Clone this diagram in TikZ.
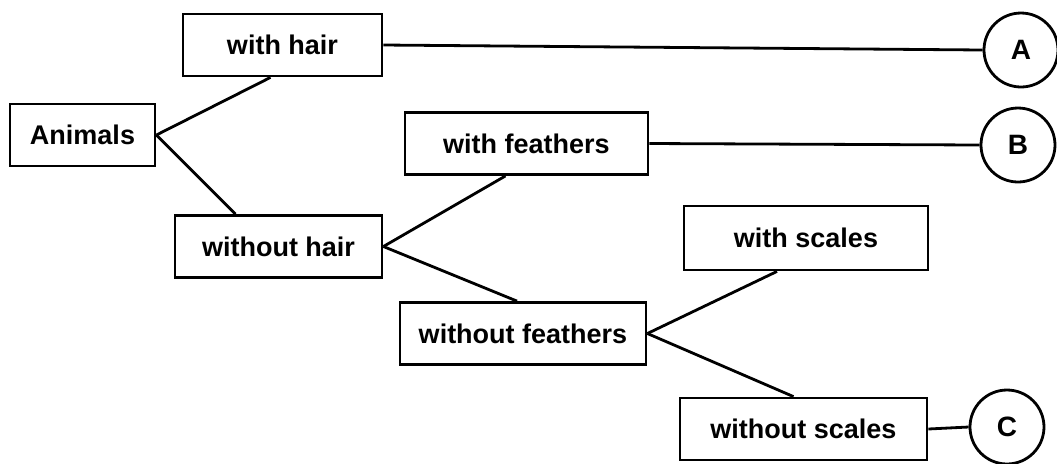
\documentclass[tikz,border=0pt]{standalone}
\usepackage{fontspec}
\setmainfont{Liberation Sans}
\begin{document}
\begin{tikzpicture}[x=0.5pt,y=-0.5pt,line width=1.4pt,
    box/.style={draw,rectangle,minimum height=31pt,inner sep=0pt,
      font=\fontsize{13.5}{16}\selectfont\bfseries},
    leaf/.style={draw,circle,minimum size=37pt,inner sep=0pt,
      font=\fontsize{14}{16}\selectfont\bfseries}]
  \useasboundingbox (0,0) rectangle (1057,463);
  \node[box,minimum width=72.5pt] (animals) at (82.5,135) {Animals};
  \node[box,minimum width=99.5pt] (withhair) at (282.5,45) {with hair};
  \node[box,minimum width=103.5pt] (withouthair) at (278.5,246.5) {without hair};
  \node[box,minimum width=121.5pt] (withfeathers) at (526.5,143.5) {with feathers};
  \node[box,minimum width=123pt] (withoutfeathers) at (523,333.5) {without feathers};
  \node[box,minimum width=122pt,minimum height=32pt] (withscales) at (806,238) {with scales};
  \node[box,minimum width=123.5pt] (withoutscales) at (803.5,429) {without scales};
  \node[leaf] (A) at (1021,50) {A};
  \node[leaf] (B) at (1018,145) {B};
  \node[leaf] (C) at (1007,427) {C};
  % branches
  \draw (animals.east) -- ([xshift=-6pt]withhair.south);
  \draw (animals.east) -- ([xshift=-21.5pt]withouthair.north);
  \draw (withouthair.east) -- ([xshift=-10.5pt]withfeathers.south);
  \draw (withouthair.east) -- ([xshift=-3pt]withoutfeathers.north);
  \draw (withoutfeathers.east) -- ([xshift=-14.5pt]withscales.south);
  \draw (withoutfeathers.east) -- ([xshift=-5pt]withoutscales.north);
  % to the letters
  \draw (withhair.east) -- (A.west);
  \draw (withfeathers.east) -- (B.west);
  \draw (withoutscales.east) -- (C.west);
\end{tikzpicture}
\end{document}
